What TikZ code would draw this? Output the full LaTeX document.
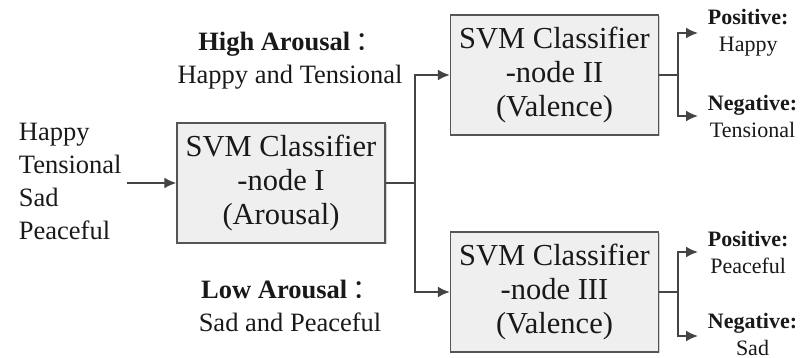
\documentclass[tikz,border=0pt]{standalone}
\usepackage{fontspec}
\setmainfont{Liberation Serif}
\newfontfamily\cjk{Noto Sans CJK SC}
\usepackage{tikz}
\usetikzlibrary{arrows.meta,positioning,shadows}

\definecolor{boxfill}{HTML}{EFEFEF}
\definecolor{boxline}{HTML}{555555}
\definecolor{wire}{HTML}{444444}

\begin{document}
\begin{tikzpicture}[x=1pt,y=1pt,line width=1.8pt,color=wire,text=black!90,
                    flow/.style={-{Latex[length=12pt,width=11pt]}}]
  \tikzstyle{svm}=[draw=boxline,line width=1.4pt,fill=boxfill,
                   minimum width=208pt,minimum height=120pt,align=center,
                   font=\fontsize{30.5}{34}\selectfont,
                   drop shadow={shadow xshift=1.5pt,shadow yshift=-1.5pt,fill=black!35}]
  \tikzstyle{group}=[align=center,font=\fontsize{26.5}{33}\selectfont]
  \tikzstyle{result}=[align=center,inner sep=0pt,font=\fontsize{22}{27}\selectfont]

  \useasboundingbox (0,0) rectangle (802,358);

  \node[svm] (arousal) at (281,175) {SVM Classifier\\-node I\\(Arousal)};
  \node[svm] (valhigh) at (554.5,283) {SVM Classifier\\-node II\\(Valence)};
  \node[svm] (vallow) at (554.5,66) {SVM Classifier\\-node III\\(Valence)};

  \node[group,align=left,anchor=west,inner sep=0pt] (emotions) at (18,176.5)
       {Happy\\Tensional\\Sad\\Peaceful};
  \node[group] (high) at (290,297.5)
       {\textbf{High Arousal}\hspace{5pt}{\cjk ：}\\Happy and Tensional};
  \node[group] (low) at (290,52)
       {\textbf{Low Arousal}\hspace{5pt}{\cjk ：}\\Sad and Peaceful};

  \coordinate (fork1) at (415,175);
  \coordinate (fork2) at (678,283);
  \coordinate (fork3) at (678,66);
  \coordinate (hpos) at (698,325);
  \coordinate (hneg) at (698,242);
  \coordinate (lpos) at (698,106);
  \coordinate (lneg) at (698,22);

  \node[result,right=9pt of hpos] (happy) {\textbf{Positive:}\\Happy};
  \node[result,right=9pt of hneg] (tense) {\textbf{Negative:}\\Tensional};
  \node[result,right=9pt of lpos] (peace) {\textbf{Positive:}\\Peaceful};
  \node[result,right=9pt of lneg,yshift=1.5pt] (sad) {\textbf{Negative:}\\Sad};

  \draw[flow] ([xshift=5pt]emotions.east |- arousal.west) -- (arousal.west);
  \draw (arousal.east) -- (fork1);
  \draw[flow] (fork1) |- (valhigh.west);
  \draw[flow] (fork1) |- (vallow.west);
  \draw (valhigh.east) -- (fork2);
  \draw[flow] (fork2) |- (hpos);
  \draw[flow] (fork2) |- (hneg);
  \draw (vallow.east) -- (fork3);
  \draw[flow] (fork3) |- (lpos);
  \draw[flow] (fork3) |- (lneg);
\end{tikzpicture}
\end{document}
